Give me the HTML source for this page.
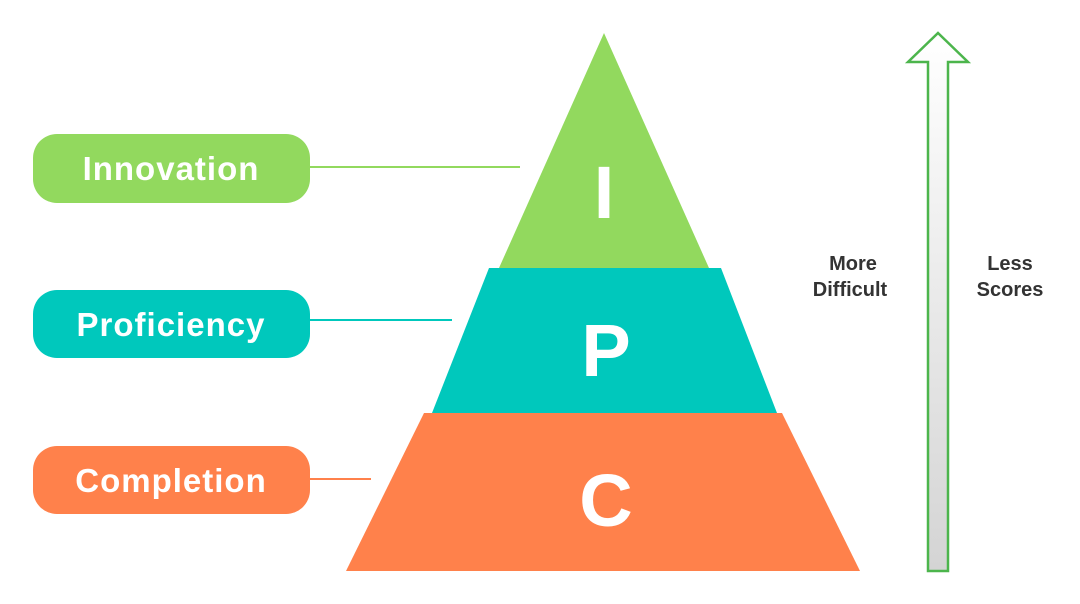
<!DOCTYPE html>
<html><head><meta charset="utf-8"><style>
html,body{margin:0;padding:0;background:#fff;}
svg{display:block;}
text{font-family:"Liberation Sans",sans-serif;font-weight:bold;}
</style></head><body>
<svg width="1080" height="604" viewBox="0 0 1080 604" xmlns="http://www.w3.org/2000/svg">
<defs>
<linearGradient id="g" x1="0" y1="0" x2="0" y2="1">
<stop offset="0" stop-color="#ffffff"/><stop offset="1" stop-color="#d4d4d4"/>
</linearGradient>
</defs>
<line x1="310" y1="167" x2="520" y2="167" stroke="#92d95e" stroke-width="2"/>
<line x1="310" y1="320" x2="452" y2="320" stroke="#00c8bc" stroke-width="2"/>
<line x1="310" y1="479" x2="371" y2="479" stroke="#ff814b" stroke-width="2"/>
<polygon points="604,33 709,268 499,268" fill="#92d95e"/>
<polygon points="489,268 721,268 777,413 432,413" fill="#00c8bc"/>
<polygon points="424,413 782,413 860,571 346,571" fill="#ff814b"/>
<text x="604" y="218" font-size="74" fill="#fff" text-anchor="middle">I</text>
<text x="606" y="376" font-size="74" fill="#fff" text-anchor="middle">P</text>
<text x="606" y="526" font-size="74" fill="#fff" text-anchor="middle">C</text>
<rect x="33" y="134" width="277" height="69" rx="24" fill="#92d95e"/>
<rect x="33" y="290" width="277" height="68" rx="24" fill="#00c8bc"/>
<rect x="33" y="446" width="277" height="68" rx="24" fill="#ff814b"/>
<text x="171" y="180" font-size="33" letter-spacing="1" fill="#fff" text-anchor="middle">Innovation</text>
<text x="171" y="336" font-size="33" letter-spacing="1" fill="#fff" text-anchor="middle">Proficiency</text>
<text x="171" y="492" font-size="33" letter-spacing="1" fill="#fff" text-anchor="middle">Completion</text>
<polygon points="938,33 968,62 948,62 948,571 928,571 928,62 908,62" fill="url(#g)" stroke="#4cb54c" stroke-width="2.5"/>
<text x="853" y="270" font-size="20" fill="#333" text-anchor="middle">More</text>
<text x="850" y="296" font-size="20" fill="#333" text-anchor="middle">Difficult</text>
<text x="1010" y="270" font-size="20" fill="#333" text-anchor="middle">Less</text>
<text x="1010" y="296" font-size="20" fill="#333" text-anchor="middle">Scores</text>
</svg>
</body></html>
